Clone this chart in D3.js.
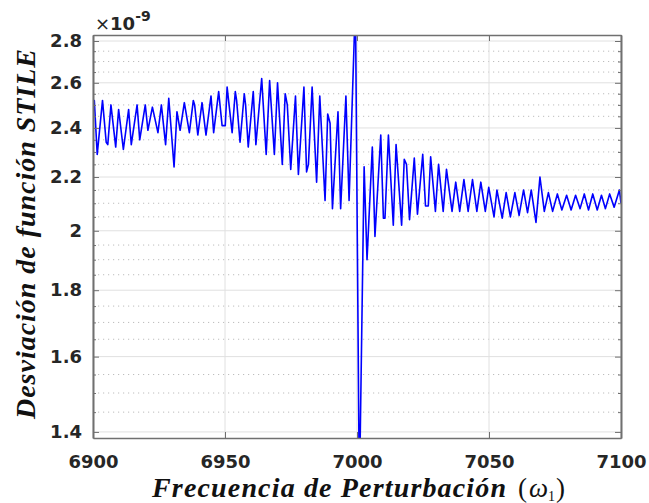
<!DOCTYPE html>
<html lang="es">

<head>
  <meta charset="utf-8">
  <title>Desviación STILE</title>
  <script src="https://d3js.org/d3.v7.min.js"></script>
</head>

<body style="margin:0;background:#fff">
  <div id="chart"></div>

  <style>
    .tick text {
      font: bold 18px "DejaVu Sans", sans-serif;
      fill: #262626;
    }
    .eje path, .eje line {
      stroke: #707070;
    }
    .eje path {
      stroke-width: 1.6;
    }
  </style>

  <script type="text/javascript">
    "use strict"

    // frecuencia de perturbacion (eje x) y desviacion (x 1e-9)
    var freq = [6900.0, 6900.5, 6901.6, 6903.6, 6905.0, 6905.6, 6906.8, 6908.6, 6909.7, 6911.5,
      6913.5, 6914.5, 6916.7, 6917.7, 6919.8, 6920.8, 6922.5, 6924.6, 6925.9, 6927.5,
      6928.7, 6930.7, 6931.8, 6933.0, 6934.6, 6936.5, 6938.0, 6938.5, 6939.7, 6941.3,
      6942.8, 6944.7, 6945.7, 6947.6, 6948.9, 6950.1, 6950.8, 6952.7, 6953.9, 6954.4,
      6955.7, 6957.3, 6957.8, 6958.8, 6960.7, 6961.7, 6963.9, 6965.6, 6966.9, 6968.7,
      6969.9, 6971.7, 6972.8, 6973.6, 6974.9, 6976.7, 6977.8, 6979.9, 6980.9, 6981.6,
      6983.0, 6984.7, 6985.9, 6987.9, 6988.9, 6989.8, 6990.7, 6992.8, 6993.8, 6995.8,
      6997.0, 6999.4, 7000.9, 7002.7, 7003.8, 7005.8, 7006.8, 7009.0, 7010.0, 7010.6,
      7011.9, 7013.75, 7014.8, 7016.9, 7017.9, 7018.75, 7019.9, 7021.7, 7022.9, 7024.9,
      7025.95, 7027.0, 7027.9, 7029.7, 7030.9, 7032.65, 7033.9, 7036.0, 7037.4, 7038.9,
      7040.5, 7042.1, 7043.75, 7045.4, 7046.9, 7048.6, 7049.9, 7051.9, 7053.0, 7055.0,
      7056.5, 7058.1, 7059.8, 7061.4, 7063.1, 7064.6, 7066.0, 7067.8, 7069.3, 7070.95,
      7072.5, 7074.1, 7075.9, 7077.6, 7079.4, 7081.1, 7082.8, 7084.5, 7086.1, 7087.7,
      7089.3, 7091.0, 7092.6, 7094.1, 7095.7, 7097.4, 7099.4, 7100.0];

    var desv = [2.46, 2.52, 2.29, 2.52, 2.34, 2.33, 2.50, 2.32, 2.48, 2.31,
      2.48, 2.33, 2.50, 2.35, 2.50, 2.39, 2.49, 2.38, 2.50, 2.33,
      2.53, 2.24, 2.47, 2.39, 2.51, 2.38, 2.52, 2.50, 2.37, 2.51,
      2.37, 2.54, 2.38, 2.56, 2.41, 2.41, 2.58, 2.38, 2.56, 2.52,
      2.34, 2.55, 2.50, 2.32, 2.56, 2.33, 2.62, 2.29, 2.61, 2.29,
      2.60, 2.25, 2.55, 2.50, 2.23, 2.54, 2.21, 2.58, 2.22, 2.25,
      2.58, 2.18, 2.54, 2.11, 2.46, 2.42, 2.08, 2.47, 2.08, 2.54,
      2.11, 3.00, 1.25, 2.24, 1.90, 2.32, 1.98, 2.37, 2.045, 2.045,
      2.37, 2.02, 2.33, 2.02, 2.27, 2.25, 2.04, 2.275, 2.06, 2.29,
      2.09, 2.09, 2.28, 2.07, 2.25, 2.07, 2.23, 2.07, 2.18, 2.07,
      2.19, 2.07, 2.19, 2.07, 2.18, 2.07, 2.16, 2.05, 2.15, 2.045,
      2.14, 2.05, 2.14, 2.055, 2.15, 2.065, 2.15, 2.03, 2.20, 2.07,
      2.14, 2.07, 2.135, 2.075, 2.13, 2.075, 2.13, 2.08, 2.135, 2.075,
      2.135, 2.075, 2.13, 2.08, 2.135, 2.085, 2.15, 2.10];

    var xTicks = [6900, 6950, 7000, 7050, 7100];
    var yTicks = [1.4, 1.6, 1.8, 2, 2.2, 2.4, 2.6, 2.8];
    var yMinor = [1.45, 1.5, 1.55, 1.65, 1.7, 1.75, 1.85, 1.9, 1.95, 2.05, 2.1, 2.15,
      2.25, 2.3, 2.35, 2.45, 2.5, 2.55, 2.65, 2.7, 2.75];

    var anchoSVG = 649, altoSVG = 503;
    var margin = {top: 35, right: 28, bottom: 65, left: 93},
        anchoVis = anchoSVG - margin.left - margin.right,
        altoVis = altoSVG - margin.top - margin.bottom;

    var svg = d3.select('#chart')
      .append('svg')
        .attr('width', anchoSVG)
        .attr('height', altoSVG);

    var g = svg.append('g')
        .attr('transform', 'translate(' + margin.left + ',' + margin.top + ')');

    var x = d3.scaleLinear()
      .domain([6900, 7100])
      .range([0, anchoVis]);

    // eje y logaritmico, como el original
    var y = d3.scaleLog()
      .domain([1.385, 2.83])
      .range([altoVis, 0]);

    // rejilla secundaria punteada
    g.selectAll('.menor')
      .data(yMinor)
      .enter()
        .append('line')
          .attr('x1', 0).attr('x2', anchoVis)
          .attr('y1', d => y(d)).attr('y2', d => y(d))
          .attr('stroke', '#bdbdbd')
          .attr('stroke-dasharray', '1.2,3.8');

    // rejilla principal
    g.selectAll('.mayorY')
      .data(yTicks)
      .enter()
        .append('line')
          .attr('x1', 0).attr('x2', anchoVis)
          .attr('y1', d => y(d)).attr('y2', d => y(d))
          .attr('stroke', '#e0e0e0');

    g.selectAll('.mayorX')
      .data(xTicks)
      .enter()
        .append('line')
          .attr('x1', d => x(d)).attr('x2', d => x(d))
          .attr('y1', 0).attr('y2', altoVis)
          .attr('stroke', '#e0e0e0');

    g.append('clipPath')
        .attr('id', 'recorte')
      .append('rect')
        .attr('width', anchoVis)
        .attr('height', altoVis);

    var datos = freq.map((f, i) => [f, desv[i]]);

    g.append('path')
      .datum(datos)
        .attr('clip-path', 'url(#recorte)')
        .attr('fill', 'none')
        .attr('stroke', '#0000ff')
        .attr('stroke-width', 1.6)
        .attr('stroke-linejoin', 'round')
        .attr('d', d3.line().x(d => x(d[0])).y(d => y(d[1])));

    // ejes (marcas hacia adentro)
    g.append('g')
      .attr('class', 'eje')
      .attr('transform', 'translate(0,' + altoVis + ')')
      .call(d3.axisBottom(x).tickValues(xTicks).tickFormat(d3.format('d'))
        .tickSizeInner(-6).tickSizeOuter(0).tickPadding(17));

    g.append('g')
      .attr('class', 'eje')
      .call(d3.axisTop(x).tickValues(xTicks).tickFormat('')
        .tickSizeInner(-6).tickSizeOuter(0));

    g.append('g')
      .attr('class', 'eje')
      .call(d3.axisLeft(y).tickValues(yTicks).tickFormat(d3.format('~g'))
        .tickSizeInner(-6).tickSizeOuter(0).tickPadding(11));

    g.append('g')
      .attr('class', 'eje')
      .call(d3.axisLeft(y).tickValues(yMinor).tickFormat('')
        .tickSizeInner(-3).tickSizeOuter(0));

    g.append('g')
      .attr('class', 'eje')
      .attr('transform', 'translate(' + anchoVis + ',0)')
      .call(d3.axisRight(y).tickValues(yTicks).tickFormat('')
        .tickSizeInner(-6).tickSizeOuter(0));

    g.append('g')
      .attr('class', 'eje')
      .attr('transform', 'translate(' + anchoVis + ',0)')
      .call(d3.axisRight(y).tickValues(yMinor).tickFormat('')
        .tickSizeInner(-3).tickSizeOuter(0));

    // exponente x10^-9
    var expo = svg.append('text')
      .attr('x', 95)
      .attr('y', 30)
      .attr('fill', '#262626')
      .style('font-family', '"DejaVu Sans", sans-serif')
      .style('font-size', '18px');
    expo.append('tspan').text('×');
    expo.append('tspan').style('font-weight', 'bold').text('10');
    expo.append('tspan').style('font-weight', 'bold').style('font-size', '14px')
      .attr('dy', -9).text('-9');

    // titulos de ejes
    svg.append('text')
      .attr('transform', 'translate(35,' + 234 + ') rotate(-90)')
      .attr('text-anchor', 'middle')
      .attr('textLength', 370)
      .attr('lengthAdjust', 'spacing')
      .style('font', 'italic bold 28px "Liberation Serif", serif')
      .attr('fill', '#111')
      .text('Desviación de función STILE');

    var tx = svg.append('text')
      .attr('x', 152)
      .attr('y', 497)
      .attr('fill', '#111')
      .style('font-family', '"Liberation Serif", serif');
    tx.append('tspan')
      .attr('textLength', 354)
      .attr('lengthAdjust', 'spacing')
      .style('font', 'italic bold 28px "Liberation Serif", serif')
      .text('Frecuencia de Perturbación');
    tx.append('tspan').attr('x', 518).style('font-size', '27px').text('(');
    tx.append('tspan').attr('dx', 2).style('font-size', '27px').style('font-style', 'italic').text('ω');
    tx.append('tspan').style('font-size', '14px').attr('dy', 4).text('1');
    tx.append('tspan').attr('dx', 1).style('font-size', '27px').attr('dy', -4).text(')');
  </script>
</body>

</html>
